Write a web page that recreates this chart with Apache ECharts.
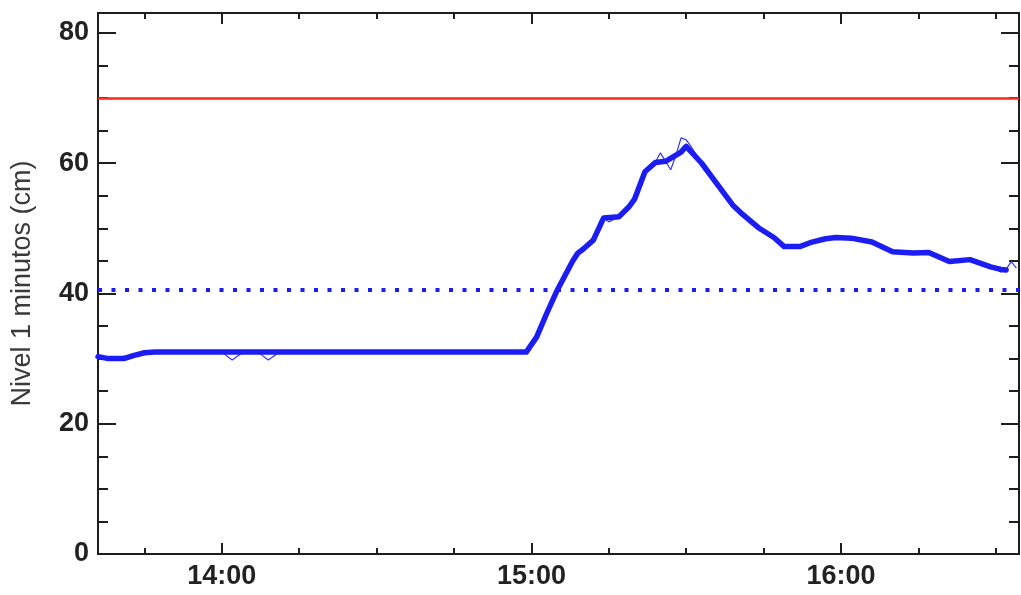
<!DOCTYPE html>
<html>
<head>
<meta charset="utf-8">
<script src="https://cdn.jsdelivr.net/npm/echarts@6/dist/echarts.min.js"></script>
<style>
html,body{margin:0;padding:0;background:#fff;}
#c{width:1021px;height:595px;}
</style>
</head>
<body>
<div id="c"></div>
<script>
// Smoothed series (thick line)
const smoothTimes = ['13:36','13:38','13:41','13:43','13:45','13:47','14:30','14:59','15:01','15:03','15:05','15:07','15:08','15:09','15:10','15:12','15:14','15:17','15:19','15:20','15:22','15:24','15:26','15:29','15:30','15:33','15:36','15:39','15:41','15:44','15:47','15:49','15:52','15:54','15:57','15:59','16:02','16:06','16:10','16:14','16:17','16:21','16:25','16:29','16:31','16:32'];
const smoothValues = [30.3,30.0,30.0,30.5,30.9,31.0,31.0,31.0,33.3,37.0,40.5,43.5,45.0,46.2,46.8,48.2,51.6,51.8,53.4,54.5,58.7,60.1,60.3,61.7,62.6,60.0,56.8,53.6,52.1,50.1,48.6,47.2,47.2,47.8,48.4,48.6,48.5,47.9,46.4,46.2,46.3,44.9,45.2,44.1,43.7,43.6];
// Raw 1-minute readings (thin line)
const rawTimes = ['13:36','13:37','13:38','13:40','13:41','13:42','13:43','13:45','13:47','14:00','14:02','14:04','14:07','14:09','14:11','14:30','14:59','15:01','15:03','15:05','15:07','15:09','15:10','15:12','15:14','15:15','15:17','15:19','15:22','15:24','15:25','15:27','15:28','15:29','15:30','15:31','15:33','15:36','15:39','15:41','15:44','15:47','15:49','15:52','15:54','15:57','15:59','16:02','16:06','16:10','16:14','16:17','16:21','16:25','16:29','16:31','16:32','16:33','16:34'];
const rawValues = [30.6,30.1,29.9,30.0,30.4,30.1,30.6,30.9,31.0,31.0,29.8,30.9,31.0,29.8,30.9,31.0,31.0,33.3,37.0,40.5,43.5,46.2,46.8,48.2,51.6,51.0,51.8,53.4,58.7,60.1,61.6,59.0,61.2,63.9,63.6,62.5,60.0,56.8,53.6,52.1,50.1,48.6,47.2,47.2,47.8,48.4,48.6,48.5,47.9,46.4,46.2,46.3,44.9,45.2,44.1,43.3,43.7,44.9,43.9];
// Threshold levels
const redLevel = [70];
const blueLevel = [40.5];
// Axis ticks
const xMajorTicks = ['14:00','15:00','16:00'];
const xMinorTicks = ['13:45','14:15','14:30','14:45','15:15','15:30','15:45','16:15','16:30'];
const yMajorTicks = [0,20,40,60,80];
const yMinorTicks = [5,10,15,25,30,35,45,50,55,65,70,75];
const yAxisName = 'Nivel 1 minutos (cm)';

function toMin(t){const p=t.split(':');return (+p[0])*60+(+p[1]);}
function fmt(v){const h=Math.floor(v/60),m=Math.round(v-h*60);return h+':'+(m<10?'0':'')+m;}

const XMIN = toMin('13:36'), XMAX = 994.5;
const YMIN = 0, YMAX = 83.07;
const AX = '#1e1e1e';
const FONT = 'Liberation Sans';

function xAx(pos, ticks, len, labels){
  return {
    type:'value', position:pos, min:XMIN, max:XMAX, gridIndex:0,
    axisLine:{show:true, onZero:false, lineStyle:{color:AX,width:2}},
    axisTick:{show:true, inside:true, length:len, customValues:ticks.map(toMin), lineStyle:{color:AX,width:2}},
    axisLabel:{show:!!labels, customValues:ticks.map(toMin), formatter:fmt, fontFamily:FONT, fontSize:27, fontWeight:'bold', color:'#222', margin:9},
    splitLine:{show:false}
  };
}
function yAx(pos, ticks, len, labels){
  const o = {
    type:'value', position:pos, min:YMIN, max:YMAX, gridIndex:0,
    axisLine:{show:true, onZero:false, lineStyle:{color:AX,width:2}},
    axisTick:{show:true, inside:true, length:len, customValues:ticks, lineStyle:{color:AX,width:2}},
    axisLabel:{show:!!labels, customValues:ticks, fontFamily:FONT, fontSize:27, fontWeight:'bold', color:'#222', margin:9},
    splitLine:{show:false}
  };
  if(labels){
    o.name = yAxisName; o.nameLocation='middle'; o.nameRotate=90; o.nameGap=62;
    o.nameTextStyle={fontFamily:FONT,fontSize:27,color:'#3a3a3a'};
  }
  return o;
}

const chart = echarts.init(document.getElementById('c'), null, {renderer:'canvas'});
chart.setOption({
  animation:false,
  backgroundColor:'#ffffff',
  grid:{left:98, right:2, top:13, bottom:41, containLabel:false},
  xAxis:[
    xAx('bottom', xMajorTicks, 11, true),
    xAx('bottom', xMinorTicks, 6, false),
    xAx('top', xMajorTicks, 11, false),
    xAx('top', xMinorTicks, 6, false)
  ],
  yAxis:[
    yAx('left', yMajorTicks, 18, true),
    yAx('left', yMinorTicks, 10, false),
    yAx('right', yMajorTicks, 18, false),
    yAx('right', yMinorTicks, 10, false)
  ],
  series:[
    {
      type:'line', xAxisIndex:0, yAxisIndex:0, symbol:'none', silent:true,
      data: rawTimes.map((t,i)=>[toMin(t), rawValues[i]]),
      lineStyle:{color:'#3434ff', width:1.2}, z:3
    },
    {
      type:'line', xAxisIndex:0, yAxisIndex:0, symbol:'none', silent:true,
      data: smoothTimes.map((t,i)=>[toMin(t), smoothValues[i]]),
      lineStyle:{color:'#1c1cf5', width:5.5, join:'round', cap:'round'}, z:4,
      markLine:{
        silent:true, symbol:['none','none'], label:{show:false},
        data:[
          {yAxis:redLevel[0], lineStyle:{color:'#ff2a1a', width:2.5, type:'solid'}},
          {yAxis:blueLevel[0], lineStyle:{color:'#1c1cf5', width:4, type:[4,9.5]}}
        ]
      }
    }
  ]
});
</script>
</body>
</html>
